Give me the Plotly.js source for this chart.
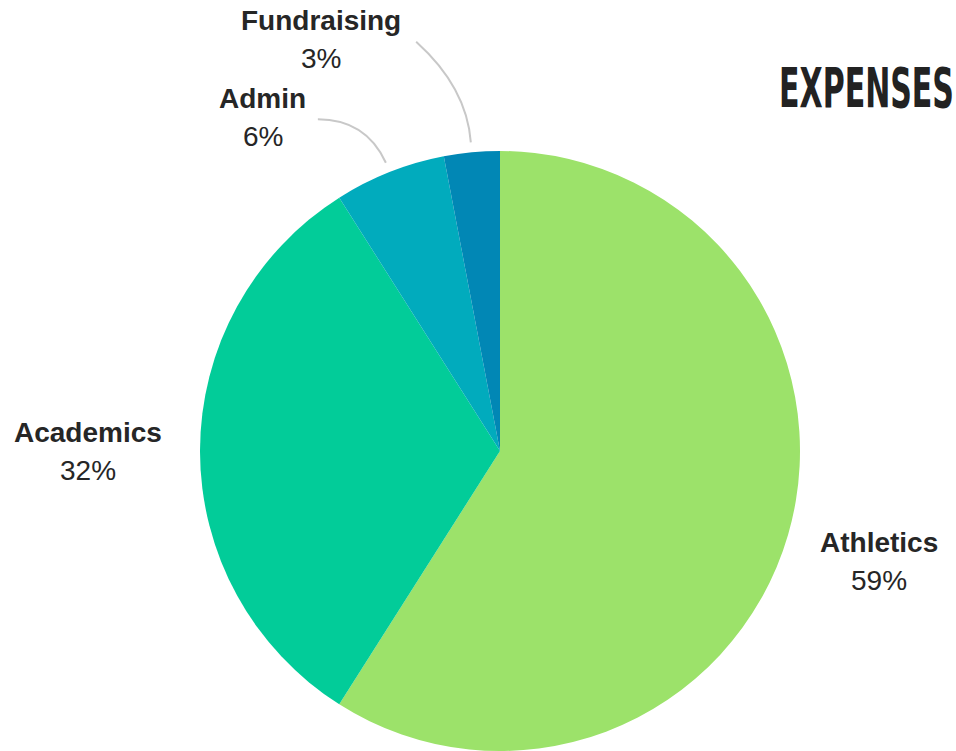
<!DOCTYPE html>
<html><head><meta charset="utf-8">
<script src="https://cdn.plot.ly/plotly-3.0.1.min.js"></script>
<style>html,body{margin:0;padding:0;background:#fff}#chart{width:956px;height:751px}</style>
</head><body><div id="chart"></div>
<script>
const categories = ["Athletics", "Academics", "Admin", "Fundraising"];
const values = [59, 32, 6, 3];
const colors = ["#9ce26a", "#02cc99", "#01abbd", "#0187b5"];
const titleText = "EXPENSES";

const W = 956, H = 751;
const cx = 500, cy = 451, R = 301;
const total = values.reduce((a, b) => a + b, 0);
const px = x => x / W;
const py = y => 1 - y / H;

// label placement (layout): angle in degrees clockwise from top, distance as multiple of R
const labelPlace = [
  {ang: null, dist: 1.31},
  {ang: null, dist: 1.37},
  {ang: 324.6, dist: 1.36, leader: true},
  {ang: 336.5, dist: 1.49, leader: true}
];

const trace = {
  type: "pie",
  labels: categories,
  values: values,
  sort: false,
  direction: "clockwise",
  rotation: 0,
  marker: {colors: colors, line: {width: 0}},
  textinfo: "none",
  hoverinfo: "label+percent",
  showlegend: false,
  domain: {x: [(cx - R) / W, (cx + R) / W], y: [0, (2 * (H - cy)) / H]}
};

const annotations = [];
const shapes = [];
let cum = 0;
values.forEach((v, i) => {
  const a0 = cum / total * 360;
  cum += v;
  const a1 = cum / total * 360;
  const mid = (a0 + a1) / 2;
  const lp = labelPlace[i];
  const ang = (lp.ang === null ? mid : lp.ang) * Math.PI / 180;
  const lx = cx + Math.sin(ang) * R * lp.dist;
  const ly = cy - Math.cos(ang) * R * lp.dist;
  const pct = Math.round(v / total * 100) + "%";
  annotations.push({
    xref: "paper", yref: "paper", x: px(lx), y: py(ly - 19),
    text: "<b>" + categories[i] + "</b>", showarrow: false,
    xanchor: "center", yanchor: "middle",
    font: {family: "Liberation Sans, Arial, sans-serif", size: 28, color: "#262626"}
  });
  annotations.push({
    xref: "paper", yref: "paper", x: px(lx), y: py(ly + 19),
    text: pct, showarrow: false,
    xanchor: "center", yanchor: "middle",
    font: {family: "Liberation Sans, Arial, sans-serif", size: 28, color: "#262626"}
  });
  if (lp.leader) {
    const mr = mid * Math.PI / 180;
    const sx = cx + Math.sin(mr) * R * 1.03;
    const sy = cy - Math.cos(mr) * R * 1.03;
    let ex, ey, qx, qy;
    if (i === 2) {
      ex = lx + 55; ey = ly + 2; qx = sx - 20; qy = ey;
    } else {
      ex = lx + 95; ey = ly + 2; qx = sx - 4; qy = sy - 55;
    }
    shapes.push({
      type: "path", xref: "paper", yref: "paper",
      path: `M ${px(sx)} ${py(sy)} Q ${px(qx)} ${py(qy)} ${px(ex)} ${py(ey)}`,
      line: {color: "#c8c8c8", width: 2}
    });
  }
});

annotations.push({
  xref: "paper", yref: "paper", x: px(954), y: py(88),
  text: "<b>" + titleText + "</b>", showarrow: false,
  xanchor: "right", yanchor: "middle",
  font: {family: "DejaVu Sans Condensed, DejaVu Sans, sans-serif", size: 55, color: "#222"}
});

const layout = {
  width: W, height: H,
  margin: {l: 0, r: 0, t: 0, b: 0},
  paper_bgcolor: "#fff",
  annotations: annotations,
  shapes: shapes
};

Plotly.newPlot("chart", [trace], layout, {displayModeBar: false, staticPlot: true}).then(gd => {
  // condense the title text horizontally to mimic a narrow display face
  const texts = gd.querySelectorAll(".annotation-text");
  texts.forEach(t => {
    if (t.textContent === titleText) {
      const targetW = 175, rightEdge = 954;
      t.setAttribute("textLength", targetW);
      t.setAttribute("lengthAdjust", "spacingAndGlyphs");
      const bb = t.getBBox();
      const ctm = t.getScreenCTM();
      const curRight = bb.x + bb.width;
      const dx = (rightEdge - (ctm ? ctm.e : 0)) - curRight;
      t.setAttribute("x", parseFloat(t.getAttribute("x") || 0) + dx);
    }
  });
});
</script>
</body></html>
